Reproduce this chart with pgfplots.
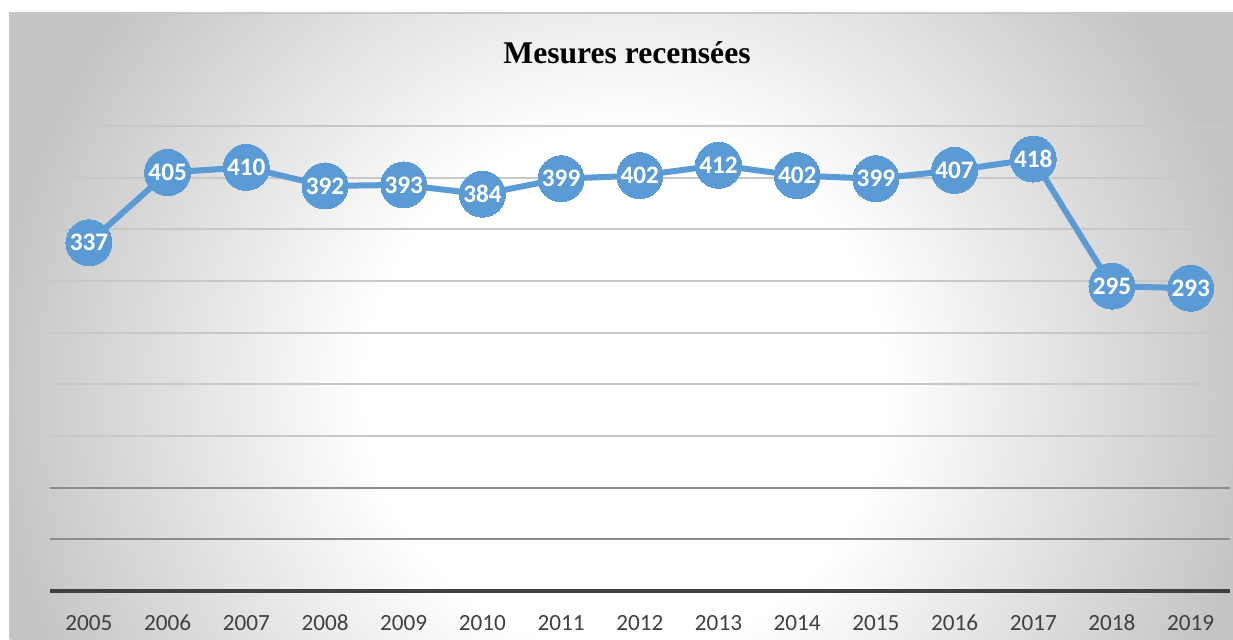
\documentclass[border=0pt]{standalone}
\usepackage{pgfplots}
\pgfplotsset{compat=1.18}
\usepackage{fontspec}
\setmainfont{Carlito}
\newfontfamily\titlefont{Liberation Serif}
\definecolor{lineblue}{HTML}{5B9BD5}
\definecolor{ticktext}{HTML}{404040}
\definecolor{gridlight}{HTML}{C8C8C8}
\definecolor{griddark}{HTML}{8C8C8C}
\definecolor{bggray}{HTML}{C4C4C4}
\pgfdeclareradialshading{bgshade}{\pgfpoint{0bp}{0bp}}{color(0bp)=(white); color(9bp)=(white); color(22bp)=(bggray); color(50bp)=(bggray)}
\begin{document}
\begin{tikzpicture}
\begin{scope}[x=0.5pt,y=0.5pt]
\useasboundingbox (0,0) rectangle (1233,639);
\begin{scope}
\clip (10,0) rectangle (1233,626);
\shade[shading=bgshade] (625,250) circle (720);
\end{scope}
\draw[color=gridlight, line width=0.8pt] (10,0) -- (10,626) -- (1240,626);
\node[font=\titlefont\bfseries\fontsize{15.8}{18}\selectfont, text=black] at (627,586) {Mesures recensées};
\end{scope}
\begin{axis}[
  at={(24.8pt,24pt)}, anchor=south west,
  scale only axis, width=590.2pt, height=232.5pt,
  xmin=-0.5, xmax=14.5, ymin=0, ymax=450,
  axis x line*=bottom, axis y line*=left,
  x axis line style={color=ticktext, line width=2pt, -},
  y axis line style={draw=none},
  xtick={0,...,14},
  xticklabels={2005,2006,2007,2008,2009,2010,2011,2012,2013,2014,2015,2016,2017,2018,2019},
  xticklabel style={font=\fontsize{11.6}{13}\selectfont, text=ticktext, anchor=north, yshift=-8.5pt},
  major tick length=0pt,
  ytick={150,200,...,450},
  yticklabels={},
  ymajorgrids,
  major grid style={color=gridlight, line width=1pt},
  extra y ticks={50,100},
  extra y tick labels={},
  extra y tick style={major grid style={color=griddark, line width=1pt}},
  /pgf/number format/assume math mode=true,
  clip=false,
]
\addplot[color=lineblue, line width=3pt, mark=*, mark size=11.5pt,
  mark options={fill=lineblue, draw=lineblue, line width=0pt},
  nodes near coords,
  every node near coord/.style={anchor=center, text=white, font=\bfseries\fontsize{12.6}{14}\selectfont},
] coordinates {
(0,337) (1,405) (2,410) (3,392) (4,393) (5,384) (6,399) (7,402) (8,412) (9,402) (10,399) (11,407) (12,418) (13,295) (14,293)
};
\end{axis}
\end{tikzpicture}
\end{document}
